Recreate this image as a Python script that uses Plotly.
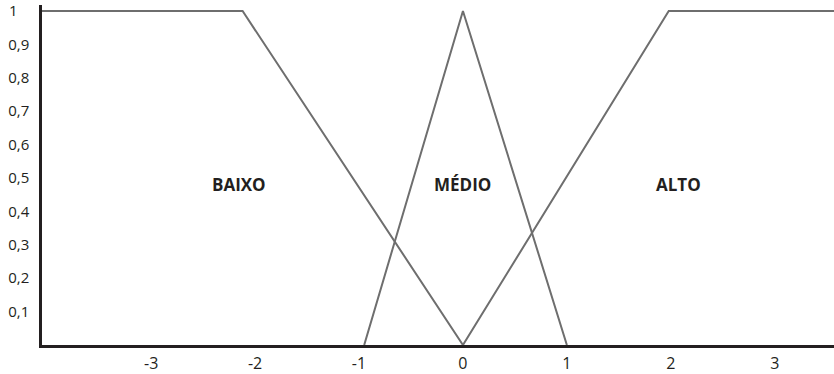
# Fuzzy membership functions: BAIXO / MÉDIO / ALTO
import plotly.graph_objects as go

# membership sets (x breakpoints, degree of membership)
baixo_x = [-4.05, -2.12, 0]
baixo_y = [1, 1, 0]
medio_x = [-0.95, 0, 1]
medio_y = [0, 1, 0]
alto_x = [0, 1.98, 3.57]
alto_y = [0, 1, 1]

set_names = ["BAIXO", "MÉDIO", "ALTO"]
label_x = [-2.15, 0, 2.07]
label_y = [0.48, 0.48, 0.48]

x_ticks = [-3, -2, -1, 0, 1, 2, 3]
x_ticktext = ["-3", "-2", "-1", "0", "1", "2", "3"]
y_ticks = [0.1, 0.2, 0.3, 0.4, 0.5, 0.6, 0.7, 0.8, 0.9, 1]
y_ticktext = ["0,1", "0,2", "0,3", "0,4", "0,5", "0,6", "0,7", "0,8", "0,9",
              "1\u00a0\u00a0\u00a0"]

LINE = "#6e6e6e"
AXIS = "#231f20"
FONT = "Open Sans, DejaVu Sans, sans-serif"

fig = go.Figure()
for xs, ys in [(baixo_x, baixo_y), (medio_x, medio_y), (alto_x, alto_y)]:
    fig.add_trace(go.Scatter(x=xs, y=ys, mode="lines",
                             line=dict(color=LINE, width=2),
                             hoverinfo="skip", showlegend=False))

for name, lx, ly in zip(set_names, label_x, label_y):
    fig.add_annotation(x=lx, y=ly, text="<b>" + name + "</b>", showarrow=False,
                       font=dict(family=FONT, size=17, color="#231f20"))

fig.update_xaxes(range=[-4.05, 3.57], tickvals=x_ticks, ticktext=x_ticktext,
                 showgrid=False, zeroline=False, showline=True,
                 linecolor=AXIS, linewidth=2.5, automargin=False,
                 ticks="outside", ticklen=2, tickcolor="rgba(0,0,0,0)",
                 tickfont=dict(family=FONT, size=16, color="#231f20"))
fig.update_yaxes(range=[0, 1.018], tickvals=y_ticks, ticktext=y_ticktext,
                 showgrid=False, zeroline=False, showline=True,
                 linecolor=AXIS, linewidth=2.5, automargin=False,
                 ticks="outside", ticklen=7, tickcolor="rgba(0,0,0,0)",
                 tickfont=dict(family=FONT, size=15, color="#231f20"))

fig.update_layout(width=834, height=374,
                  margin=dict(l=42, r=0, t=5, b=29),
                  plot_bgcolor="white", paper_bgcolor="white")

# page default body margin would shift the chart
fig.write_html("out.html", config={"displayModeBar": False},
               post_script="document.body.style.margin='0';")
